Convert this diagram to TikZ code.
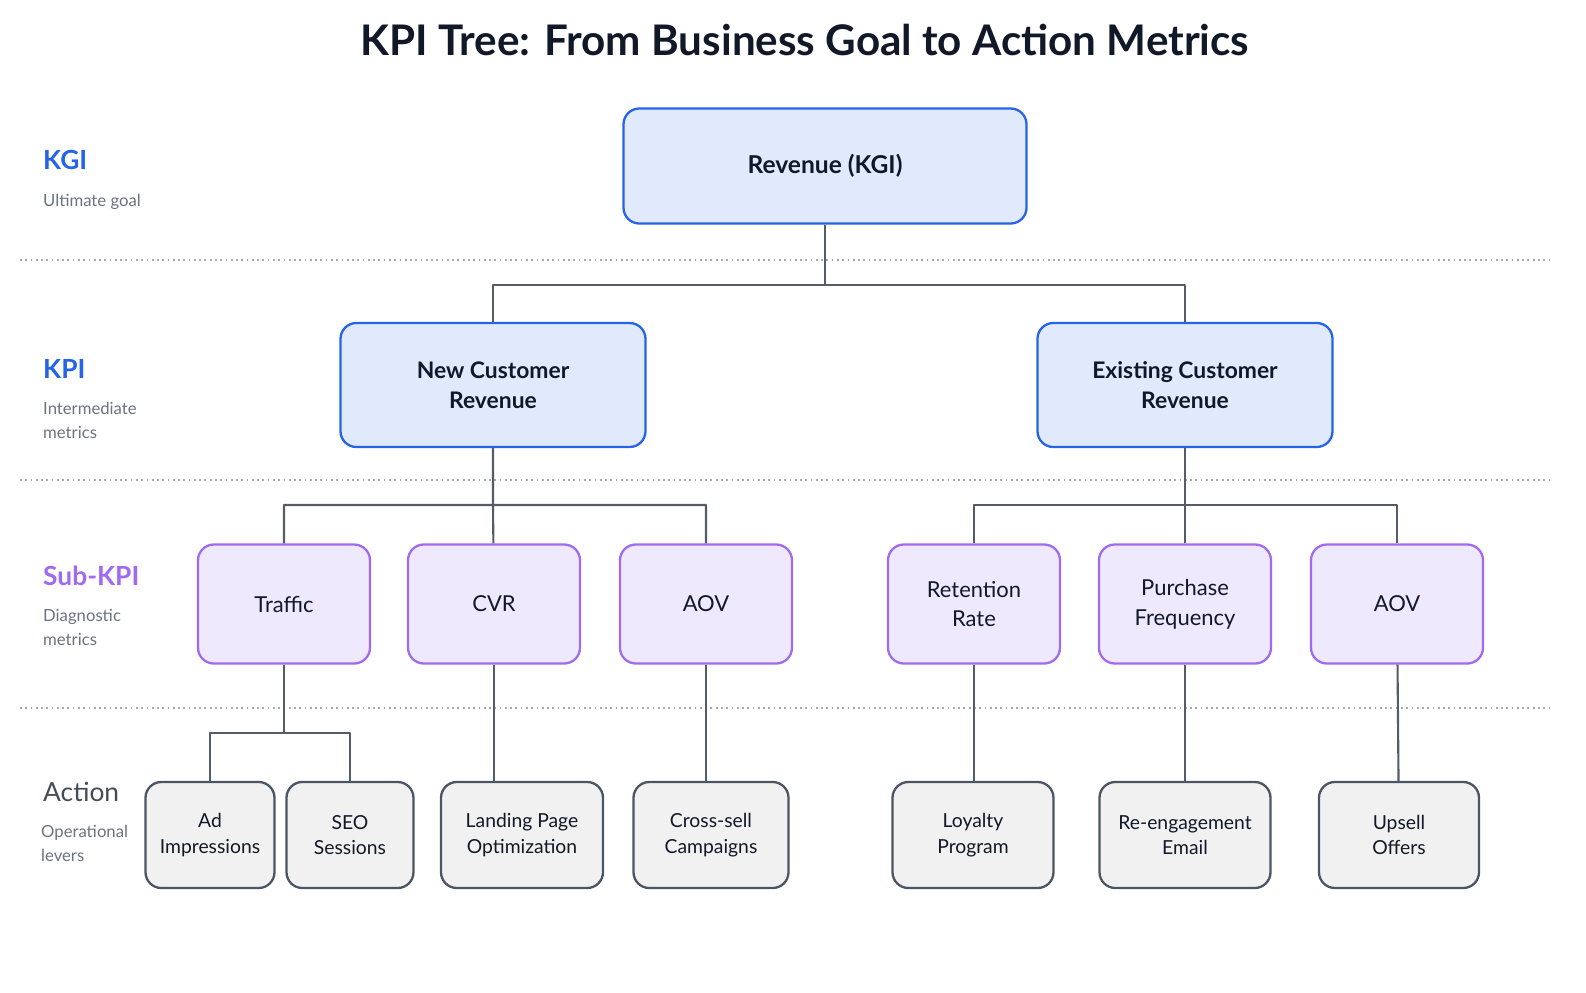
\documentclass[tikz,border=0pt]{standalone}
\usepackage{fontspec}
\setmainfont{Lato}
\usetikzlibrary{positioning}
\definecolor{kblue}{HTML}{2563EB}
\definecolor{kbluef}{HTML}{E1EAFC}
\definecolor{kpurp}{HTML}{A06BF0}
\definecolor{kpurpf}{HTML}{EEE9FD}
\definecolor{kgray}{HTML}{4B5563}
\definecolor{kgrayf}{HTML}{F1F1F2}
\definecolor{kline}{HTML}{555C66}
\definecolor{ktext}{HTML}{111827}
\definecolor{ksub}{HTML}{6B7280}
\begin{document}
\begin{tikzpicture}[x=0.02cm,y=-0.02cm,line join=round,
    box/.style={draw,rounded corners=9pt,line width=1.3pt,align=center,
                inner sep=0pt,text=ktext},
    kgi/.style={box,draw=kblue,fill=kbluef,font=\fontsize{14}{17}\selectfont\bfseries},
    kpi/.style={box,draw=kblue,fill=kbluef,font=\fontsize{13}{17}\selectfont\bfseries},
    sub/.style={box,draw=kpurp,fill=kpurpf,minimum width=172*0.02cm,
                minimum height=119*0.02cm,font=\fontsize{12.5}{17}\selectfont},
    act/.style={box,draw=kgray,fill=kgrayf,minimum height=106*0.02cm,
                font=\fontsize{11}{14.5}\selectfont},
    conn/.style={draw=kline,line width=1.2pt},
    lvl/.style={anchor=west,font=\fontsize{15}{18}\selectfont\bfseries},
    note/.style={anchor=north west,align=left,text=ksub,
                 font=\fontsize{9.5}{13.5}\selectfont}]

  \useasboundingbox (0,0) rectangle (1586,992);

  % title
  \node (title) at (805,40) {\fontsize{24}{28}\selectfont\bfseries\color{ktext}KPI Tree: From Business Goal to Action Metrics};

  % level separators
  \foreach \yy in {260,480,708}
    \draw[ksub!60,line width=1pt,dotted] (20,\yy) -- (1550,\yy);

  % level labels
  \node[lvl,text=kblue]  (lkgi) at (37,160) {KGI};
  \node[note] (nkgi) at (37,188) {Ultimate goal};
  \node[lvl,text=kblue]  (lkpi) at (37,369) {KPI};
  \node[note] (nkpi) at (37,396) {Intermediate\\metrics};
  \node[lvl,text=kpurp]  (lsub) at (37,576) {Sub-KPI};
  \node[note] (nsub) at (37,603) {Diagnostic\\metrics};
  \node[lvl,text=kgray!90!black,font=\fontsize{15}{18}\selectfont] (lact) at (37,792) {Action};
  \node[note] (nact) at (35,819) {Operational\\levers};

  % boxes
  \node[kgi,minimum width=403*0.02cm,minimum height=115*0.02cm] (rev) at (825,166) {Revenue (KGI)};
  \node[kpi,minimum width=305*0.02cm,minimum height=124*0.02cm] (new) at (493,385) {New Customer\\Revenue};
  \node[kpi,minimum width=295*0.02cm,minimum height=124*0.02cm] (ex)  at (1185,385) {Existing Customer\\Revenue};

  \node[sub] (traf) at (284,604)  {Traffic};
  \node[sub] (cvr)  at (494,604)  {CVR};
  \node[sub] (aov)  at (706,604)  {AOV};
  \node[sub] (ret)  at (974,604)  {Retention\\Rate};
  \node[sub] (pf)   at (1185,604) {Purchase\\Frequency};
  \node[sub] (aovb) at (1397,604) {AOV};

  \node[act,minimum width=129*0.02cm] (ad)   at (210,835)  {Ad\\Impressions};
  \node[act,minimum width=127*0.02cm] (seo)  at (350,835)  {SEO\\Sessions};
  \node[act,minimum width=162*0.02cm] (lp)   at (522,835)  {Landing Page\\Optimization};
  \node[act,minimum width=155*0.02cm] (cs)   at (711,835)  {Cross-sell\\Campaigns};
  \node[act,minimum width=161*0.02cm] (loy)  at (973,835)  {Loyalty\\Program};
  \node[act,minimum width=171*0.02cm] (re)   at (1185,835) {Re-engagement\\Email};
  \node[act,minimum width=160*0.02cm] (up)   at (1399,835) {Upsell\\Offers};

  % connectors
  \coordinate (j0) at (825,285);
  \coordinate (j1) at (493,505);
  \coordinate (j2) at (1185,505);
  \coordinate (j3) at (284,733);
  \path[conn] (rev) -- (j0) (new.north) |- (j0) -| (ex.north);
  \path[conn] (new) -- (j1) (traf.north) |- (j1) -| (aov.north) (cvr) -- (j1);
  \path[conn] (ex) -- (j2) (ret.north) |- (j2) -| (aovb.north) (pf) -- (j2);
  \path[conn] (traf) -- (j3) (ad.north) |- (j3) -| (seo.north);
  \path[conn] (cvr.south) -- (cvr.south |- lp.north);
  \path[conn] (aov.south) -- (aov.south |- cs.north);
  \path[conn] (ret.south) -- (ret.south |- loy.north);
  \path[conn] (pf) -- (re);
  \path[conn] (aovb) -- (up);
\end{tikzpicture}
\end{document}
